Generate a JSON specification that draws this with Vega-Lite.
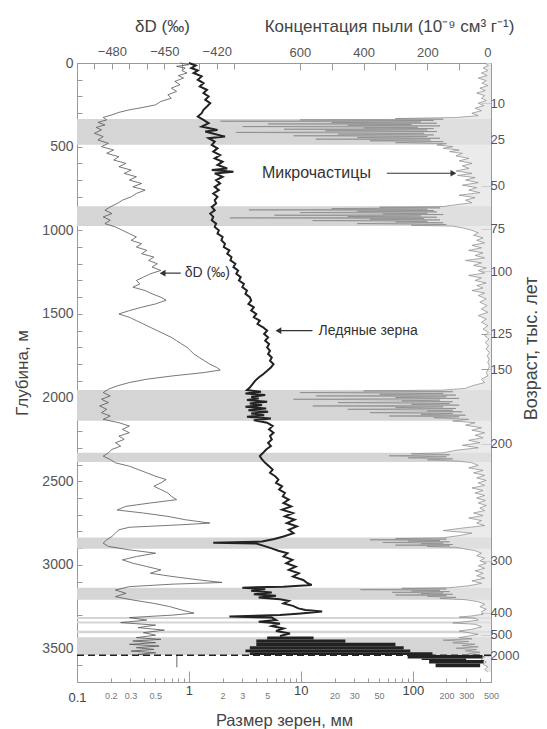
{
"$schema": "https://vega.github.io/schema/vega-lite/v6.json",
"width": 414, "height": 619,
"autosize": {"type": "none"},
"padding": {"left": 77, "top": 63, "right": 56, "bottom": 47},
"background": "white",
"config": {
 "font": "Liberation Sans",
 "view": {"stroke": "#999", "strokeWidth": 1},
 "axis": {"grid": false, "domainColor": "#999", "tickColor": "#999", "labelColor": "#555", "titleColor": "#444", "labelFont": "Liberation Sans", "titleFont": "Liberation Sans", "titleFontWeight": "normal", "labelFontSize": 13, "titleFontSize": 16, "zindex": 1}
},
"datasets": {
 "bands": [{"d1":335,"d2":488},{"d1":856,"d2":975},{"d1":1955,"d2":2138},{"d1":2329,"d2":2385},{"d1":2837,"d2":2903},{"d1":3136,"d2":3209},{"d1":3312,"d2":3324},{"d1":3338,"d2":3350},{"d1":3394,"d2":3408},{"d1":3432,"d2":3538}],
 "dust": [{"d":0,"c":20},{"d":15,"c":8},{"d":30,"c":25},{"d":45,"c":10},{"d":60,"c":30},{"d":75,"c":12},{"d":90,"c":40},{"d":105,"c":15},{"d":120,"c":28},{"d":135,"c":10},{"d":150,"c":35},{"d":165,"c":18},{"d":180,"c":45},{"d":195,"c":20},{"d":210,"c":30},{"d":225,"c":15},{"d":240,"c":40},{"d":255,"c":22},{"d":270,"c":50},{"d":285,"c":30},{"d":300,"c":60},{"d":315,"c":40},{"d":326,"c":110},{"d":332,"c":300},{"d":336,"c":150},{"d":340,"c":600},{"d":344,"c":180},{"d":348,"c":850},{"d":352,"c":220},{"d":356,"c":500},{"d":360,"c":170},{"d":364,"c":700},{"d":368,"c":250},{"d":372,"c":450},{"d":376,"c":160},{"d":380,"c":780},{"d":384,"c":230},{"d":388,"c":400},{"d":392,"c":180},{"d":396,"c":650},{"d":400,"c":200},{"d":405,"c":520},{"d":410,"c":170},{"d":415,"c":800},{"d":420,"c":210},{"d":425,"c":480},{"d":430,"c":180},{"d":435,"c":620},{"d":440,"c":200},{"d":445,"c":420},{"d":450,"c":160},{"d":455,"c":550},{"d":460,"c":190},{"d":465,"c":380},{"d":470,"c":150},{"d":476,"c":300},{"d":482,"c":140},{"d":490,"c":170},{"d":500,"c":120},{"d":510,"c":150},{"d":520,"c":100},{"d":530,"c":130},{"d":540,"c":90},{"d":555,"c":110},{"d":570,"c":70},{"d":585,"c":100},{"d":600,"c":60},{"d":615,"c":90},{"d":630,"c":70},{"d":645,"c":110},{"d":660,"c":60},{"d":672,"c":105},{"d":685,"c":50},{"d":700,"c":80},{"d":715,"c":40},{"d":730,"c":90},{"d":745,"c":45},{"d":760,"c":70},{"d":775,"c":35},{"d":790,"c":100},{"d":805,"c":50},{"d":820,"c":80},{"d":835,"c":60},{"d":850,"c":120},{"d":858,"c":150},{"d":862,"c":350},{"d":866,"c":160},{"d":870,"c":500},{"d":874,"c":200},{"d":878,"c":760},{"d":882,"c":180},{"d":886,"c":420},{"d":890,"c":170},{"d":894,"c":600},{"d":898,"c":200},{"d":902,"c":340},{"d":906,"c":150},{"d":910,"c":680},{"d":914,"c":220},{"d":918,"c":450},{"d":922,"c":170},{"d":926,"c":820},{"d":930,"c":210},{"d":934,"c":380},{"d":938,"c":160},{"d":942,"c":560},{"d":946,"c":200},{"d":950,"c":300},{"d":955,"c":150},{"d":960,"c":420},{"d":965,"c":140},{"d":970,"c":250},{"d":975,"c":120},{"d":985,"c":90},{"d":1000,"c":60},{"d":1015,"c":40},{"d":1030,"c":55},{"d":1045,"c":25},{"d":1060,"c":45},{"d":1075,"c":20},{"d":1090,"c":60},{"d":1105,"c":30},{"d":1120,"c":70},{"d":1135,"c":25},{"d":1150,"c":50},{"d":1165,"c":20},{"d":1180,"c":80},{"d":1195,"c":30},{"d":1210,"c":55},{"d":1225,"c":15},{"d":1240,"c":40},{"d":1255,"c":20},{"d":1270,"c":70},{"d":1285,"c":30},{"d":1300,"c":50},{"d":1315,"c":15},{"d":1330,"c":45},{"d":1345,"c":25},{"d":1360,"c":60},{"d":1375,"c":20},{"d":1390,"c":40},{"d":1410,"c":15},{"d":1430,"c":35},{"d":1450,"c":12},{"d":1470,"c":30},{"d":1490,"c":10},{"d":1510,"c":40},{"d":1530,"c":15},{"d":1550,"c":30},{"d":1570,"c":10},{"d":1590,"c":25},{"d":1610,"c":8},{"d":1630,"c":20},{"d":1650,"c":6},{"d":1670,"c":18},{"d":1690,"c":8},{"d":1710,"c":15},{"d":1730,"c":5},{"d":1750,"c":12},{"d":1770,"c":6},{"d":1790,"c":10},{"d":1810,"c":5},{"d":1830,"c":8},{"d":1850,"c":15},{"d":1870,"c":10},{"d":1890,"c":30},{"d":1910,"c":20},{"d":1930,"c":60},{"d":1945,"c":80},{"d":1955,"c":150},{"d":1960,"c":400},{"d":1965,"c":120},{"d":1970,"c":600},{"d":1975,"c":150},{"d":1980,"c":350},{"d":1985,"c":110},{"d":1990,"c":550},{"d":1995,"c":140},{"d":2000,"c":300},{"d":2005,"c":100},{"d":2010,"c":620},{"d":2015,"c":160},{"d":2020,"c":280},{"d":2025,"c":120},{"d":2030,"c":480},{"d":2035,"c":130},{"d":2040,"c":250},{"d":2045,"c":100},{"d":2050,"c":560},{"d":2055,"c":150},{"d":2060,"c":300},{"d":2065,"c":110},{"d":2070,"c":450},{"d":2075,"c":120},{"d":2080,"c":200},{"d":2085,"c":90},{"d":2090,"c":380},{"d":2095,"c":120},{"d":2100,"c":220},{"d":2105,"c":80},{"d":2110,"c":320},{"d":2115,"c":100},{"d":2120,"c":180},{"d":2130,"c":70},{"d":2140,"c":120},{"d":2150,"c":50},{"d":2165,"c":80},{"d":2180,"c":30},{"d":2195,"c":60},{"d":2210,"c":20},{"d":2225,"c":50},{"d":2240,"c":25},{"d":2255,"c":70},{"d":2270,"c":35},{"d":2285,"c":90},{"d":2300,"c":40},{"d":2315,"c":110},{"d":2330,"c":150},{"d":2336,"c":250},{"d":2342,"c":130},{"d":2348,"c":320},{"d":2354,"c":140},{"d":2360,"c":260},{"d":2366,"c":120},{"d":2372,"c":200},{"d":2380,"c":100},{"d":2390,"c":60},{"d":2405,"c":40},{"d":2420,"c":70},{"d":2435,"c":25},{"d":2450,"c":55},{"d":2465,"c":20},{"d":2480,"c":45},{"d":2495,"c":15},{"d":2510,"c":40},{"d":2525,"c":20},{"d":2540,"c":60},{"d":2555,"c":25},{"d":2570,"c":50},{"d":2585,"c":20},{"d":2600,"c":45},{"d":2615,"c":18},{"d":2630,"c":40},{"d":2645,"c":15},{"d":2660,"c":35},{"d":2675,"c":20},{"d":2690,"c":55},{"d":2705,"c":25},{"d":2720,"c":70},{"d":2735,"c":30},{"d":2750,"c":45},{"d":2765,"c":20},{"d":2780,"c":90},{"d":2795,"c":150},{"d":2810,"c":60},{"d":2825,"c":100},{"d":2838,"c":150},{"d":2842,"c":300},{"d":2846,"c":140},{"d":2850,"c":380},{"d":2854,"c":160},{"d":2858,"c":260},{"d":2862,"c":130},{"d":2866,"c":340},{"d":2870,"c":150},{"d":2874,"c":220},{"d":2878,"c":120},{"d":2882,"c":300},{"d":2886,"c":130},{"d":2890,"c":200},{"d":2895,"c":110},{"d":2902,"c":90},{"d":2915,"c":50},{"d":2930,"c":30},{"d":2945,"c":45},{"d":2960,"c":20},{"d":2975,"c":35},{"d":2990,"c":15},{"d":3005,"c":40},{"d":3020,"c":20},{"d":3035,"c":50},{"d":3050,"c":25},{"d":3065,"c":45},{"d":3080,"c":20},{"d":3095,"c":60},{"d":3110,"c":30},{"d":3125,"c":70},{"d":3136,"c":130},{"d":3140,"c":280},{"d":3144,"c":140},{"d":3148,"c":410},{"d":3152,"c":160},{"d":3156,"c":250},{"d":3160,"c":130},{"d":3164,"c":310},{"d":3168,"c":150},{"d":3172,"c":220},{"d":3176,"c":120},{"d":3180,"c":300},{"d":3184,"c":140},{"d":3188,"c":200},{"d":3194,"c":110},{"d":3200,"c":160},{"d":3208,"c":80},{"d":3220,"c":40},{"d":3235,"c":20},{"d":3250,"c":35},{"d":3265,"c":15},{"d":3280,"c":30},{"d":3295,"c":25},{"d":3305,"c":60},{"d":3312,"c":100},{"d":3318,"c":50},{"d":3330,"c":40},{"d":3340,"c":80},{"d":3347,"c":120},{"d":3355,"c":50},{"d":3370,"c":30},{"d":3385,"c":60},{"d":3395,"c":100},{"d":3402,"c":80},{"d":3415,"c":40},{"d":3425,"c":70},{"d":3435,"c":100},{"d":3442,"c":60},{"d":3450,"c":150},{"d":3458,"c":70},{"d":3466,"c":120},{"d":3474,"c":50},{"d":3482,"c":90},{"d":3490,"c":40},{"d":3498,"c":110},{"d":3506,"c":45},{"d":3514,"c":80},{"d":3522,"c":35},{"d":3530,"c":70},{"d":3538,"c":40},{"d":3550,"c":20},{"d":3565,"c":30},{"d":3580,"c":15},{"d":3595,"c":25},{"d":3610,"c":10},{"d":3625,"c":20},{"d":3640,"c":10}],
 "dD": [{"d":0,"v":-441},{"d":10,"v":-436},{"d":20,"v":-443},{"d":30,"v":-438},{"d":45,"v":-440},{"d":60,"v":-437},{"d":75,"v":-442},{"d":90,"v":-439},{"d":110,"v":-444},{"d":130,"v":-441},{"d":150,"v":-446},{"d":170,"v":-443},{"d":190,"v":-448},{"d":210,"v":-446},{"d":230,"v":-452},{"d":250,"v":-455},{"d":265,"v":-462},{"d":280,"v":-470},{"d":295,"v":-476},{"d":310,"v":-480},{"d":325,"v":-485},{"d":340,"v":-483},{"d":355,"v":-488},{"d":370,"v":-484},{"d":385,"v":-489},{"d":400,"v":-486},{"d":420,"v":-490},{"d":440,"v":-485},{"d":460,"v":-488},{"d":480,"v":-482},{"d":500,"v":-486},{"d":520,"v":-479},{"d":540,"v":-483},{"d":560,"v":-476},{"d":580,"v":-479},{"d":600,"v":-472},{"d":620,"v":-476},{"d":640,"v":-469},{"d":660,"v":-473},{"d":680,"v":-466},{"d":700,"v":-470},{"d":720,"v":-463},{"d":740,"v":-468},{"d":760,"v":-461},{"d":780,"v":-466},{"d":800,"v":-469},{"d":820,"v":-474},{"d":840,"v":-477},{"d":860,"v":-481},{"d":880,"v":-484},{"d":900,"v":-480},{"d":920,"v":-485},{"d":940,"v":-481},{"d":960,"v":-484},{"d":980,"v":-478},{"d":1000,"v":-474},{"d":1020,"v":-470},{"d":1040,"v":-466},{"d":1060,"v":-469},{"d":1080,"v":-463},{"d":1100,"v":-466},{"d":1120,"v":-460},{"d":1140,"v":-463},{"d":1160,"v":-456},{"d":1180,"v":-459},{"d":1200,"v":-454},{"d":1220,"v":-457},{"d":1240,"v":-452},{"d":1260,"v":-458},{"d":1280,"v":-462},{"d":1300,"v":-466},{"d":1320,"v":-464},{"d":1340,"v":-468},{"d":1360,"v":-461},{"d":1380,"v":-457},{"d":1400,"v":-452},{"d":1418,"v":-449},{"d":1440,"v":-455},{"d":1460,"v":-463},{"d":1480,"v":-470},{"d":1500,"v":-476},{"d":1520,"v":-470},{"d":1540,"v":-466},{"d":1560,"v":-462},{"d":1580,"v":-458},{"d":1600,"v":-454},{"d":1620,"v":-450},{"d":1640,"v":-446},{"d":1660,"v":-443},{"d":1680,"v":-440},{"d":1700,"v":-437},{"d":1720,"v":-435},{"d":1740,"v":-433},{"d":1760,"v":-430},{"d":1780,"v":-427},{"d":1800,"v":-424},{"d":1820,"v":-420},{"d":1835,"v":-418},{"d":1850,"v":-427},{"d":1870,"v":-445},{"d":1890,"v":-460},{"d":1910,"v":-470},{"d":1930,"v":-477},{"d":1950,"v":-482},{"d":1970,"v":-485},{"d":1990,"v":-481},{"d":2010,"v":-486},{"d":2030,"v":-482},{"d":2050,"v":-487},{"d":2070,"v":-483},{"d":2090,"v":-486},{"d":2110,"v":-481},{"d":2130,"v":-485},{"d":2150,"v":-476},{"d":2170,"v":-470},{"d":2190,"v":-474},{"d":2210,"v":-470},{"d":2230,"v":-476},{"d":2250,"v":-473},{"d":2270,"v":-478},{"d":2290,"v":-475},{"d":2310,"v":-480},{"d":2330,"v":-482},{"d":2350,"v":-485},{"d":2370,"v":-481},{"d":2390,"v":-478},{"d":2410,"v":-470},{"d":2430,"v":-465},{"d":2450,"v":-460},{"d":2470,"v":-455},{"d":2490,"v":-449},{"d":2510,"v":-452},{"d":2530,"v":-456},{"d":2550,"v":-452},{"d":2570,"v":-448},{"d":2590,"v":-446},{"d":2610,"v":-443},{"d":2630,"v":-458},{"d":2650,"v":-472},{"d":2672,"v":-477},{"d":2690,"v":-462},{"d":2710,"v":-448},{"d":2730,"v":-438},{"d":2750,"v":-424},{"d":2760,"v":-440},{"d":2775,"v":-470},{"d":2790,"v":-476},{"d":2810,"v":-478},{"d":2830,"v":-480},{"d":2850,"v":-483},{"d":2870,"v":-485},{"d":2890,"v":-482},{"d":2910,"v":-470},{"d":2930,"v":-455},{"d":2950,"v":-466},{"d":2970,"v":-474},{"d":2990,"v":-468},{"d":3010,"v":-460},{"d":3030,"v":-452},{"d":3050,"v":-458},{"d":3070,"v":-445},{"d":3090,"v":-430},{"d":3105,"v":-417},{"d":3115,"v":-445},{"d":3130,"v":-470},{"d":3150,"v":-478},{"d":3170,"v":-472},{"d":3190,"v":-478},{"d":3210,"v":-468},{"d":3230,"v":-456},{"d":3249,"v":-447},{"d":3270,"v":-440},{"d":3288,"v":-433},{"d":3300,"v":-445},{"d":3315,"v":-470},{"d":3330,"v":-460},{"d":3345,"v":-475},{"d":3360,"v":-455},{"d":3375,"v":-465},{"d":3390,"v":-450},{"d":3405,"v":-462},{"d":3420,"v":-455},{"d":3435,"v":-466},{"d":3445,"v":-452},{"d":3455,"v":-468},{"d":3465,"v":-455},{"d":3475,"v":-470},{"d":3485,"v":-453},{"d":3495,"v":-466},{"d":3505,"v":-456},{"d":3515,"v":-469},{"d":3525,"v":-455},{"d":3535,"v":-465},{"d":3542,"v":-458}],
 "grain": [{"d":0,"g":1.0},{"d":15,"g":1.15},{"d":30,"g":1.05},{"d":45,"g":1.2},{"d":60,"g":1.1},{"d":80,"g":1.3},{"d":100,"g":1.2},{"d":120,"g":1.35},{"d":140,"g":1.25},{"d":160,"g":1.45},{"d":180,"g":1.35},{"d":200,"g":1.5},{"d":220,"g":1.4},{"d":240,"g":1.55},{"d":260,"g":1.45},{"d":280,"g":1.35},{"d":300,"g":1.3},{"d":320,"g":1.2},{"d":340,"g":1.35},{"d":360,"g":1.5},{"d":380,"g":1.3},{"d":400,"g":1.8},{"d":410,"g":1.4},{"d":420,"g":1.6},{"d":440,"g":2.1},{"d":450,"g":1.5},{"d":470,"g":1.7},{"d":490,"g":1.6},{"d":510,"g":1.8},{"d":530,"g":1.65},{"d":550,"g":1.9},{"d":570,"g":1.7},{"d":590,"g":2.0},{"d":610,"g":1.8},{"d":630,"g":2.2},{"d":640,"g":1.6},{"d":650,"g":2.5},{"d":660,"g":1.7},{"d":680,"g":2.0},{"d":700,"g":1.75},{"d":720,"g":1.9},{"d":740,"g":1.7},{"d":760,"g":1.85},{"d":780,"g":1.65},{"d":800,"g":1.8},{"d":820,"g":1.7},{"d":840,"g":1.75},{"d":860,"g":1.6},{"d":880,"g":1.7},{"d":900,"g":1.55},{"d":920,"g":1.65},{"d":940,"g":1.6},{"d":960,"g":1.75},{"d":980,"g":1.7},{"d":1000,"g":1.85},{"d":1020,"g":1.8},{"d":1040,"g":2.0},{"d":1060,"g":1.95},{"d":1080,"g":2.1},{"d":1100,"g":2.05},{"d":1120,"g":2.3},{"d":1140,"g":2.2},{"d":1160,"g":2.4},{"d":1180,"g":2.35},{"d":1200,"g":2.6},{"d":1220,"g":2.5},{"d":1240,"g":2.75},{"d":1260,"g":2.65},{"d":1280,"g":2.9},{"d":1300,"g":2.8},{"d":1320,"g":3.1},{"d":1340,"g":3.0},{"d":1360,"g":3.3},{"d":1380,"g":3.2},{"d":1400,"g":3.5},{"d":1420,"g":3.6},{"d":1440,"g":3.4},{"d":1460,"g":3.8},{"d":1480,"g":3.6},{"d":1500,"g":4.0},{"d":1520,"g":3.8},{"d":1540,"g":4.3},{"d":1560,"g":4.1},{"d":1580,"g":4.6},{"d":1600,"g":5.0},{"d":1620,"g":4.7},{"d":1640,"g":5.1},{"d":1660,"g":4.8},{"d":1680,"g":5.2},{"d":1700,"g":5.0},{"d":1720,"g":5.3},{"d":1740,"g":5.1},{"d":1760,"g":5.5},{"d":1780,"g":5.3},{"d":1800,"g":5.7},{"d":1820,"g":5.4},{"d":1840,"g":5.0},{"d":1860,"g":4.6},{"d":1880,"g":4.2},{"d":1900,"g":3.9},{"d":1920,"g":3.7},{"d":1940,"g":3.5},{"d":1955,"g":3.3},{"d":1965,"g":4.4},{"d":1975,"g":3.2},{"d":1985,"g":4.8},{"d":1995,"g":3.6},{"d":2005,"g":4.2},{"d":2015,"g":3.3},{"d":2025,"g":5.0},{"d":2035,"g":3.5},{"d":2045,"g":4.5},{"d":2055,"g":3.2},{"d":2065,"g":4.9},{"d":2075,"g":3.4},{"d":2085,"g":5.1},{"d":2095,"g":3.6},{"d":2105,"g":4.7},{"d":2115,"g":3.3},{"d":2125,"g":5.4},{"d":2135,"g":3.8},{"d":2150,"g":5.0},{"d":2170,"g":5.6},{"d":2190,"g":5.2},{"d":2210,"g":5.7},{"d":2230,"g":5.3},{"d":2250,"g":5.5},{"d":2270,"g":5.1},{"d":2290,"g":5.4},{"d":2310,"g":4.9},{"d":2330,"g":4.6},{"d":2350,"g":4.3},{"d":2370,"g":4.5},{"d":2390,"g":4.8},{"d":2410,"g":5.2},{"d":2430,"g":5.6},{"d":2450,"g":5.3},{"d":2470,"g":5.9},{"d":2490,"g":6.3},{"d":2510,"g":6.0},{"d":2530,"g":6.8},{"d":2550,"g":6.4},{"d":2570,"g":7.2},{"d":2590,"g":6.9},{"d":2610,"g":7.8},{"d":2630,"g":7.0},{"d":2650,"g":8.2},{"d":2670,"g":6.8},{"d":2690,"g":8.5},{"d":2710,"g":7.2},{"d":2730,"g":8.8},{"d":2750,"g":7.5},{"d":2770,"g":9.2},{"d":2790,"g":7.8},{"d":2810,"g":8.6},{"d":2830,"g":7.0},{"d":2845,"g":5.8},{"d":2860,"g":4.5},{"d":2868,"g":1.65},{"d":2872,"g":4.0},{"d":2885,"g":4.6},{"d":2900,"g":5.4},{"d":2915,"g":6.3},{"d":2930,"g":7.6},{"d":2950,"g":7.0},{"d":2970,"g":8.4},{"d":2990,"g":7.4},{"d":3010,"g":9.0},{"d":3030,"g":7.8},{"d":3050,"g":9.6},{"d":3070,"g":8.5},{"d":3090,"g":10.5},{"d":3110,"g":11.5},{"d":3120,"g":12.5},{"d":3130,"g":7.0},{"d":3136,"g":3.0},{"d":3145,"g":4.8},{"d":3155,"g":3.6},{"d":3165,"g":5.5},{"d":3175,"g":3.8},{"d":3185,"g":6.0},{"d":3195,"g":4.2},{"d":3205,"g":6.5},{"d":3215,"g":7.8},{"d":3230,"g":7.0},{"d":3245,"g":8.5},{"d":3260,"g":9.5},{"d":3270,"g":11.0},{"d":3279,"g":15.5},{"d":3290,"g":10.0},{"d":3300,"g":6.5},{"d":3309,"g":2.3},{"d":3315,"g":5.5},{"d":3330,"g":6.0},{"d":3340,"g":4.2},{"d":3350,"g":6.5},{"d":3365,"g":5.5},{"d":3380,"g":7.0},{"d":3395,"g":6.0},{"d":3410,"g":8.0},{"d":3425,"g":6.5}],
 "blob": [{"d1":3428,"d2":3446,"g1":5,"g2":13},{"d1":3446,"d2":3466,"g1":4,"g2":25},{"d1":3466,"d2":3486,"g1":4,"g2":70},{"d1":3486,"d2":3506,"g1":3.5,"g2":83},{"d1":3506,"d2":3522,"g1":3.2,"g2":95},{"d1":3522,"d2":3538,"g1":3.5,"g2":150},{"d1":3538,"d2":3560,"g1":90,"g2":420},{"d1":3560,"d2":3568,"g1":120,"g2":300},{"d1":3568,"d2":3590,"g1":140,"g2":430},{"d1":3590,"d2":3612,"g1":160,"g2":400}],
 "dash": [{"d":3540}],
 "marker": [{"d1":3545,"d2":3612,"g":0.78}],
 "ages": [{"d":240,"a":"10"},{"d":460,"a":"25"},{"d":735,"a":"50"},{"d":990,"a":"75"},{"d":1244,"a":"100"},{"d":1617,"a":"125"},{"d":1830,"a":"150"},{"d":2276,"a":"200"},{"d":2974,"a":"300"},{"d":3286,"a":"400"},{"d":3419,"a":"500"},{"d":3542,"a":"2000"}],
 "noteDust": [{"d":659,"c":719,"c1":327,"c2":118,"t":"Микрочастицы"}],
 "noteDD": [{"d":1256,"v":-438.3,"v1":-451,"v2":-440.6,"t":"δD (‰)"}],
 "noteGrain": [{"d":1600,"g":14.4,"g1":6.3,"g2":12.7,"t":"Ледяные зерна"}]
},
"resolve": {"scale": {"x": "independent", "y": "independent"}, "axis": {"x": "independent", "y": "independent"}},
"layer": [
 {"data": {"name": "bands"}, "mark": {"type": "rect", "color": "#d5d5d5"},
  "encoding": {
   "y": {"field": "d1", "type": "quantitative", "scale": {"domain": [0, 3700], "reverse": true, "nice": false, "zero": false},
    "axis": {"orient": "left", "values": [0,100,200,300,400,500,600,700,800,900,1000,1100,1200,1300,1400,1500,1600,1700,1800,1900,2000,2100,2200,2300,2400,2500,2600,2700,2800,2900,3000,3100,3200,3300,3400,3500,3600,3700], "format": "d", "labelExpr": "datum.value % 500 == 0 ? datum.label : ''", "labelFontSize": 14, "tickSize": -5, "labelPadding": 9, "title": "Глубина, м", "titleFontSize": 17, "titlePadding": 10}},
   "y2": {"field": "d2"}}},
 {"data": {"name": "dust"}, "mark": {"type": "area", "orient": "horizontal", "color": "#e3e3e3", "opacity": 0.7},
  "encoding": {
   "x": {"field": "c", "type": "quantitative", "scale": {"domain": [0, 1300], "reverse": true, "nice": false, "zero": false},
    "axis": {"orient": "top", "values": [0,100,200,300,400,500,600], "labelExpr": "datum.value % 200 == 0 ? datum.label : ''", "tickSize": -7, "labelPadding": 11, "title": "Концентация пыли (10⁻⁹ см³ г⁻¹)", "titleFontSize": 17, "titleX": 312, "titleY": -37, "titleAnchor": null, "titleAlign": "center", "titleBaseline": "middle", "domain": false}},
   "y": {"field": "d", "type": "quantitative", "scale": {"domain": [0, 3700], "reverse": true, "nice": false, "zero": false}, "axis": null}}},
 {"data": {"name": "dust"}, "mark": {"type": "line", "color": "#888", "strokeWidth": 0.7},
  "encoding": {
   "x": {"field": "c", "type": "quantitative", "scale": {"domain": [0, 1300], "reverse": true, "nice": false, "zero": false}, "axis": null},
   "y": {"field": "d", "type": "quantitative", "scale": {"domain": [0, 3700], "reverse": true, "nice": false, "zero": false}, "axis": null},
   "order": {"field": "d", "type": "quantitative"}}},
 {"data": {"name": "dD"}, "mark": {"type": "line", "color": "#555", "strokeWidth": 0.8},
  "encoding": {
   "x": {"field": "v", "type": "quantitative", "scale": {"domain": [-500, -263], "nice": false, "zero": false},
    "axis": {"orient": "top", "values": [-490,-480,-470,-460,-450,-440,-430,-420,-410], "labelExpr": "datum.value % 30 == 0 ? datum.label : ''", "tickSize": -6, "labelPadding": 11, "title": "δD (‰)", "titleFontSize": 17, "titleX": 85, "titleY": -37, "titleAnchor": null, "titleAlign": "center", "titleBaseline": "middle", "domain": false}},
   "y": {"field": "d", "type": "quantitative", "scale": {"domain": [0, 3700], "reverse": true, "nice": false, "zero": false}, "axis": null},
   "order": {"field": "d", "type": "quantitative"}}},
 {"data": {"name": "grain"}, "mark": {"type": "line", "color": "#222", "strokeWidth": 2},
  "encoding": {
   "x": {"field": "g", "type": "quantitative", "scale": {"type": "log", "domain": [0.1, 500], "nice": false},
    "axis": {"orient": "bottom", "values": [0.1,0.2,0.3,0.4,0.5,0.6,0.7,0.8,0.9,1,2,3,4,5,6,7,8,9,10,20,30,40,50,60,70,80,90,100,200,300,400,500],
     "labelExpr": "indexof([0.1,0.2,0.3,0.5,1,2,3,5,10,20,30,50,100,200,300,500], datum.value) >= 0 ? '' + datum.value : ''",
     "labelFontSize": {"condition": {"test": "datum.value == 0.1 || datum.value == 1 || datum.value == 10 || datum.value == 100", "value": 13}, "value": 9},
     "labelColor": {"condition": {"test": "datum.value == 0.1 || datum.value == 1 || datum.value == 10 || datum.value == 100", "value": "#444"}, "value": "#777"},
     "tickSize": {"condition": {"test": "datum.value == 1 || datum.value == 10 || datum.value == 100", "value": -11}, "value": -4},
     "labelPadding": 13, "labelFlush": false, "labelOverlap": false, "title": "Размер зерен, мм", "titleFontSize": 16.5, "titlePadding": 8, "domain": false}},
   "y": {"field": "d", "type": "quantitative", "scale": {"domain": [0, 3700], "reverse": true, "nice": false, "zero": false}, "axis": null},
   "order": {"field": "d", "type": "quantitative"}}},
 {"data": {"name": "blob"}, "mark": {"type": "rect", "color": "#222"},
  "encoding": {
   "x": {"field": "g1", "type": "quantitative", "scale": {"type": "log", "domain": [0.1, 500], "nice": false}, "axis": null},
   "x2": {"field": "g2"},
   "y": {"field": "d1", "type": "quantitative", "scale": {"domain": [0, 3700], "reverse": true, "nice": false, "zero": false}, "axis": null},
   "y2": {"field": "d2"}}},
 {"data": {"name": "marker"}, "mark": {"type": "rule", "color": "#666", "strokeWidth": 1},
  "encoding": {
   "x": {"field": "g", "type": "quantitative", "scale": {"type": "log", "domain": [0.1, 500], "nice": false}, "axis": null},
   "y": {"field": "d1", "type": "quantitative", "scale": {"domain": [0, 3700], "reverse": true, "nice": false, "zero": false}, "axis": null},
   "y2": {"field": "d2"}}},
 {"data": {"name": "dash"}, "mark": {"type": "rule", "color": "#222", "strokeWidth": 1.6, "strokeDash": [7, 4]},
  "encoding": {
   "y": {"field": "d", "type": "quantitative", "scale": {"domain": [0, 3700], "reverse": true, "nice": false, "zero": false}, "axis": null}}},
 {"data": {"name": "ages"}, "mark": {"type": "point", "opacity": 0},
  "encoding": {
   "y": {"field": "d", "type": "quantitative", "scale": {"domain": [0, 3700], "reverse": true, "nice": false, "zero": false},
    "axis": {"orient": "right", "values": [240,460,735,990,1244,1617,1830,2276,2974,3286,3419,3542], "labelExpr": "['10','25','50','75','100','125','150','200','300','400','500','2000'][indexof([240,460,735,990,1244,1617,1830,2276,2974,3286,3419,3542], datum.value)]", "tickSize": -10, "labelPadding": 9, "title": "Возраст, тыс. лет", "titleFontSize": 18, "titleAngle": 270, "titleX": 40, "titleY": 285, "titleAnchor": null, "titleAlign": "center", "titleBaseline": "middle", "domain": false}}}},
 {"data": {"name": "noteDust"}, "mark": {"type": "rule", "color": "#333", "strokeWidth": 1.2},
  "encoding": {
   "x": {"field": "c1", "type": "quantitative", "scale": {"domain": [0, 1300], "reverse": true, "nice": false, "zero": false}, "axis": null},
   "x2": {"field": "c2"},
   "y": {"field": "d", "type": "quantitative", "scale": {"domain": [0, 3700], "reverse": true, "nice": false, "zero": false}, "axis": null}}},
 {"data": {"name": "noteDust"}, "mark": {"type": "point", "shape": "triangle-right", "filled": true, "color": "#333", "size": 45, "opacity": 1},
  "encoding": {
   "x": {"field": "c2", "type": "quantitative", "scale": {"domain": [0, 1300], "reverse": true, "nice": false, "zero": false}, "axis": null},
   "y": {"field": "d", "type": "quantitative", "scale": {"domain": [0, 3700], "reverse": true, "nice": false, "zero": false}, "axis": null}}},
 {"data": {"name": "noteDust"}, "mark": {"type": "text", "align": "left", "baseline": "middle", "fontSize": 16, "color": "#333"},
  "encoding": {
   "x": {"field": "c", "type": "quantitative", "scale": {"domain": [0, 1300], "reverse": true, "nice": false, "zero": false}, "axis": null},
   "y": {"field": "d", "type": "quantitative", "scale": {"domain": [0, 3700], "reverse": true, "nice": false, "zero": false}, "axis": null},
   "text": {"field": "t"}}},
 {"data": {"name": "noteDD"}, "mark": {"type": "rule", "color": "#333", "strokeWidth": 1.2},
  "encoding": {
   "x": {"field": "v1", "type": "quantitative", "scale": {"domain": [-500, -263], "nice": false, "zero": false}, "axis": null},
   "x2": {"field": "v2"},
   "y": {"field": "d", "type": "quantitative", "scale": {"domain": [0, 3700], "reverse": true, "nice": false, "zero": false}, "axis": null}}},
 {"data": {"name": "noteDD"}, "mark": {"type": "point", "shape": "triangle-left", "filled": true, "color": "#333", "size": 45, "opacity": 1},
  "encoding": {
   "x": {"field": "v1", "type": "quantitative", "scale": {"domain": [-500, -263], "nice": false, "zero": false}, "axis": null},
   "y": {"field": "d", "type": "quantitative", "scale": {"domain": [0, 3700], "reverse": true, "nice": false, "zero": false}, "axis": null}}},
 {"data": {"name": "noteDD"}, "mark": {"type": "text", "align": "left", "baseline": "middle", "fontSize": 14, "color": "#333"},
  "encoding": {
   "x": {"field": "v", "type": "quantitative", "scale": {"domain": [-500, -263], "nice": false, "zero": false}, "axis": null},
   "y": {"field": "d", "type": "quantitative", "scale": {"domain": [0, 3700], "reverse": true, "nice": false, "zero": false}, "axis": null},
   "text": {"field": "t"}}},
 {"data": {"name": "noteGrain"}, "mark": {"type": "rule", "color": "#333", "strokeWidth": 1.2},
  "encoding": {
   "x": {"field": "g1", "type": "quantitative", "scale": {"type": "log", "domain": [0.1, 500], "nice": false}, "axis": null},
   "x2": {"field": "g2"},
   "y": {"field": "d", "type": "quantitative", "scale": {"domain": [0, 3700], "reverse": true, "nice": false, "zero": false}, "axis": null}}},
 {"data": {"name": "noteGrain"}, "mark": {"type": "point", "shape": "triangle-left", "filled": true, "color": "#333", "size": 45, "opacity": 1},
  "encoding": {
   "x": {"field": "g1", "type": "quantitative", "scale": {"type": "log", "domain": [0.1, 500], "nice": false}, "axis": null},
   "y": {"field": "d", "type": "quantitative", "scale": {"domain": [0, 3700], "reverse": true, "nice": false, "zero": false}, "axis": null}}},
 {"data": {"name": "noteGrain"}, "mark": {"type": "text", "align": "left", "baseline": "middle", "fontSize": 14, "color": "#333"},
  "encoding": {
   "x": {"field": "g", "type": "quantitative", "scale": {"type": "log", "domain": [0.1, 500], "nice": false}, "axis": null},
   "y": {"field": "d", "type": "quantitative", "scale": {"domain": [0, 3700], "reverse": true, "nice": false, "zero": false}, "axis": null},
   "text": {"field": "t"}}}
]
}
